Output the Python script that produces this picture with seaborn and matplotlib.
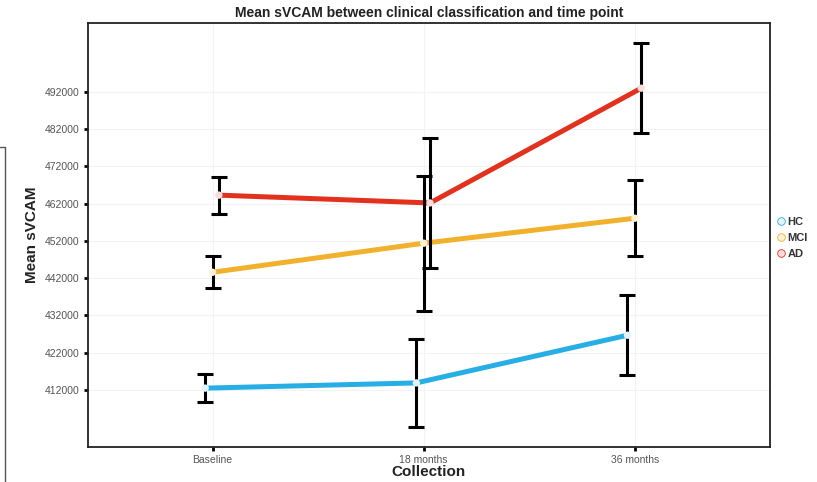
import matplotlib
matplotlib.use("Agg")
import matplotlib.pyplot as plt
import seaborn as sns
import pandas as pd
import numpy as np
from matplotlib.lines import Line2D

# ---- data ----
collections = ["Baseline", "18 months", "36 months"]
groups = ["HC", "MCI", "AD"]
hc_mean = [412500, 413900, 426700]
hc_err = [3700, 11700, 10700]
mci_mean = [443600, 451400, 458100]
mci_err = [4300, 18100, 10200]
ad_mean = [464300, 462200, 493000]
ad_err = [5000, 17400, 12100]
y_ticks = [412000, 422000, 432000, 442000, 452000, 462000, 472000, 482000, 492000]

# ---- styling ----
line_colors = {"HC": "#27aee4", "MCI": "#f2b12c", "AD": "#e2321d"}
point_colors = {"HC": "#dff4fb", "MCI": "#fdf1d6", "AD": "#fbdcdc"}
dodge = {"HC": -0.035, "MCI": 0.0, "AD": 0.03}

means = {"HC": hc_mean, "MCI": mci_mean, "AD": ad_mean}
errs = {"HC": hc_err, "MCI": mci_err, "AD": ad_err}

rows = []
for g in groups:
    for i, c in enumerate(collections):
        rows.append({"Group": g, "Collection": c, "pos": i + dodge[g],
                     "mean": means[g][i], "err": errs[g][i]})
df = pd.DataFrame(rows)

sns.set_theme(style="white")
plt.rcParams["font.family"] = ["Liberation Sans", "DejaVu Sans"]

fig = plt.figure(figsize=(8.17, 4.82), dpi=100)
ax = fig.add_axes([88 / 817, 1 - 447 / 482, (770 - 88) / 817, (447 - 23) / 482])

ax.grid(True, color="#f3f3f3", linewidth=0.8)
ax.set_axisbelow(True)

sns.lineplot(data=df, x="pos", y="mean", hue="Group", hue_order=groups,
             palette=line_colors, linewidth=3.6, legend=False, ax=ax,
             sort=True, estimator=None, zorder=2)

for g in groups:
    sub = df[df["Group"] == g]
    ax.errorbar(sub["pos"], sub["mean"], yerr=sub["err"], fmt="none",
                ecolor="black", elinewidth=2.2, capsize=5.5, capthick=2.2,
                zorder=3)
    ax.scatter(sub["pos"], sub["mean"], s=28, color=point_colors[g],
               edgecolor="none", zorder=4)

ax.set_xlim(-0.59, 2.64)
ax.set_ylim(396700, 510500)
ax.set_xticks(range(len(collections)))
ax.set_xticklabels(collections)
ax.set_yticks(y_ticks)
ax.set_yticklabels([str(t) for t in y_ticks])

ax.tick_params(axis="both", which="both", length=3, width=2, color="black",
               labelsize=7.5, labelcolor="#555555", pad=3, direction="out",
               bottom=True, left=True)
for sp in ax.spines.values():
    sp.set_color("#222222")
    sp.set_linewidth(1.3)
    sp.set_visible(True)

ax.set_xlabel("Collection", fontsize=11, fontweight="bold", color="#222222", labelpad=0)
ax.set_ylabel("Mean sVCAM", fontsize=11, fontweight="bold", color="#222222", labelpad=4)
ax.set_title("Mean sVCAM between clinical classification and time point",
             fontsize=10, fontweight="bold", color="#222222", pad=4)

handles = [Line2D([0], [0], marker="o", linestyle="none", markersize=5.5,
                  markerfacecolor=point_colors[g], markeredgecolor=line_colors[g],
                  markeredgewidth=0.6, label=g) for g in groups]
leg = fig.legend(handles=handles, loc="center left", bbox_to_anchor=(771 / 817, 1 - 238 / 482),
                 frameon=False, fontsize=8, handletextpad=0.1, labelspacing=0.55,
                 borderaxespad=0, handlelength=1.0)
for t in leg.get_texts():
    t.set_fontweight("bold")
    t.set_color("#333333")

# scan edge artifact at left
fig.add_artist(Line2D([5 / 817, 5 / 817], [1 - 147 / 482, 0], transform=fig.transFigure,
                      color="#555555", linewidth=1.0))
fig.add_artist(Line2D([0, 5 / 817], [1 - 147 / 482, 1 - 147 / 482], transform=fig.transFigure,
                      color="#555555", linewidth=1.0))

fig.savefig("out.png", dpi=100)
